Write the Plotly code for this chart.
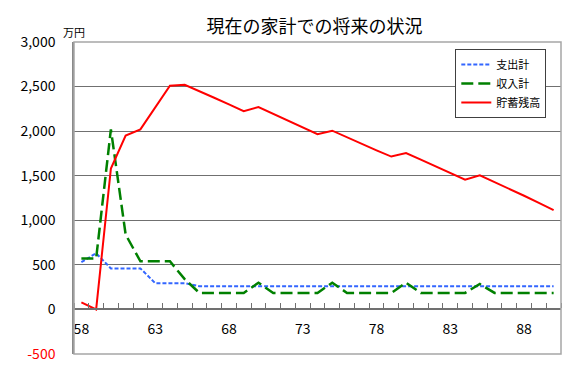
import plotly.graph_objects as go

# ---- data ----
years = [58, 59, 60, 61, 62, 63, 64, 65, 66, 67, 68, 69, 70, 71, 72, 73, 74,
         75, 76, 77, 78, 79, 80, 81, 82, 83, 84, 85, 86, 87, 88, 89, 90]

expenses = [530, 630, 460, 460, 460, 295, 295, 295, 260, 260, 260, 260, 260, 260, 260, 260, 260,
            260, 260, 260, 260, 260, 260, 260, 260, 260, 260, 260, 260, 260, 260, 260, 260]

income = [570, 570, 2020, 840, 540, 540, 540, 340, 185, 185, 185, 185, 300, 185, 185, 185, 185,
          300, 185, 185, 185, 185, 300, 185, 185, 185, 185, 285, 185, 185, 185, 185, 185]

savings = [80, 0, 1580, 1950, 2020, 2270, 2510, 2520, 2450, 2375, 2300, 2225, 2270, 2195, 2120, 2040, 1965,
           2005, 1930, 1860, 1785, 1715, 1755, 1680, 1605, 1530, 1455, 1505, 1430, 1350, 1275, 1195, 1115]

series_names = ["支出計", "収入計", "貯蓄残高"]
title_text = "現在の家計での将来の状況"
unit_text = "万円"

x_tick_vals = [58, 63, 68, 73, 78, 83, 88]
x_tick_text = ["58", "63", "68", "73", "78", "83", "88"]
y_tick_vals = [-500, 0, 500, 1000, 1500, 2000, 2500, 3000]
y_tick_text = ["<span style='color:#ff0000'>-500</span>", "0", "500", "1,000",
               "1,500", "2,000", "2,500", "3,000"]

FONT = "Noto Sans CJK JP, Noto Sans, sans-serif"

# the page body adds an 8px offset, so the figure is sized to fit the remaining window
W, H = 572, 369
ML, MR, MT, MB = 60, 19, 34, 23
PW, PH = W - ML - MR, H - MT - MB

fig = go.Figure()
fig.add_trace(go.Scatter(x=years, y=expenses, name=series_names[0], mode="lines",
                         line=dict(color="#3366ff", width=2, dash="4px,2px")))
fig.add_trace(go.Scatter(x=years, y=income, name=series_names[1], mode="lines",
                         line=dict(color="#008000", width=2.5, dash="12px,5px")))
fig.add_trace(go.Scatter(x=years, y=savings, name=series_names[2], mode="lines",
                         line=dict(color="#ff0000", width=2)))

y_min, y_max = -500, 3000
zero_pos = (0 - y_min) / (y_max - y_min)

minor_vals = [y - 0.5 for y in years] + [years[-1] + 0.5]

fig.update_layout(
    width=W, height=H,
    margin=dict(l=ML, r=MR, t=MT, b=MB),
    paper_bgcolor="white", plot_bgcolor="white",
    font=dict(family=FONT, size=14, color="black"),
    title=dict(text=title_text, x=(303.5 - ML) / PW, xref="paper", xanchor="center",
               y=1 - 19 / H, yref="container", yanchor="middle",
               font=dict(family=FONT, size=18, color="black")),
    showlegend=True,
    legend=dict(x=(446 - ML) / PW, y=1 - (41 - MT) / PH, xanchor="left", yanchor="top",
                bgcolor="white", bordercolor="#404040", borderwidth=1,
                font=dict(family=FONT, size=11, color="black"),
                tracegroupgap=0, itemwidth=30),
    xaxis=dict(range=[years[0] - 0.5, years[-1] + 0.5],
               tickvals=x_tick_vals, ticktext=x_tick_text,
               ticks="", showgrid=False, zeroline=False,
               showline=True, linecolor="#707070", linewidth=2,
               anchor="free", position=zero_pos,
               ticklabelstandoff=7,
               tickfont=dict(family=FONT, size=14, color="black"),
               minor=dict(tickvals=minor_vals, ticks="inside", ticklen=5,
                          tickcolor="#707070", tickwidth=1, showgrid=False)),
    yaxis=dict(range=[y_min, y_max], tickvals=y_tick_vals, ticktext=y_tick_text,
               ticks="", showgrid=True, gridcolor="#707070", gridwidth=1,
               zeroline=False, showline=True, linecolor="#8a8a8a", linewidth=1.5,
               ticklabelstandoff=14,
               tickfont=dict(family=FONT, size=14, color="black")),
)

# plot-area frame
fig.add_shape(type="rect", xref="x domain", yref="y domain", x0=0, x1=1, y0=0, y1=1,
              line=dict(color="#a6a6a6", width=1.5), layer="above")

fig.add_annotation(text=unit_text, xref="paper", yref="paper", x=0, y=1,
                   xanchor="center", yanchor="bottom", showarrow=False,
                   font=dict(family=FONT, size=11, color="black"))

fig.write_html("out.html")
